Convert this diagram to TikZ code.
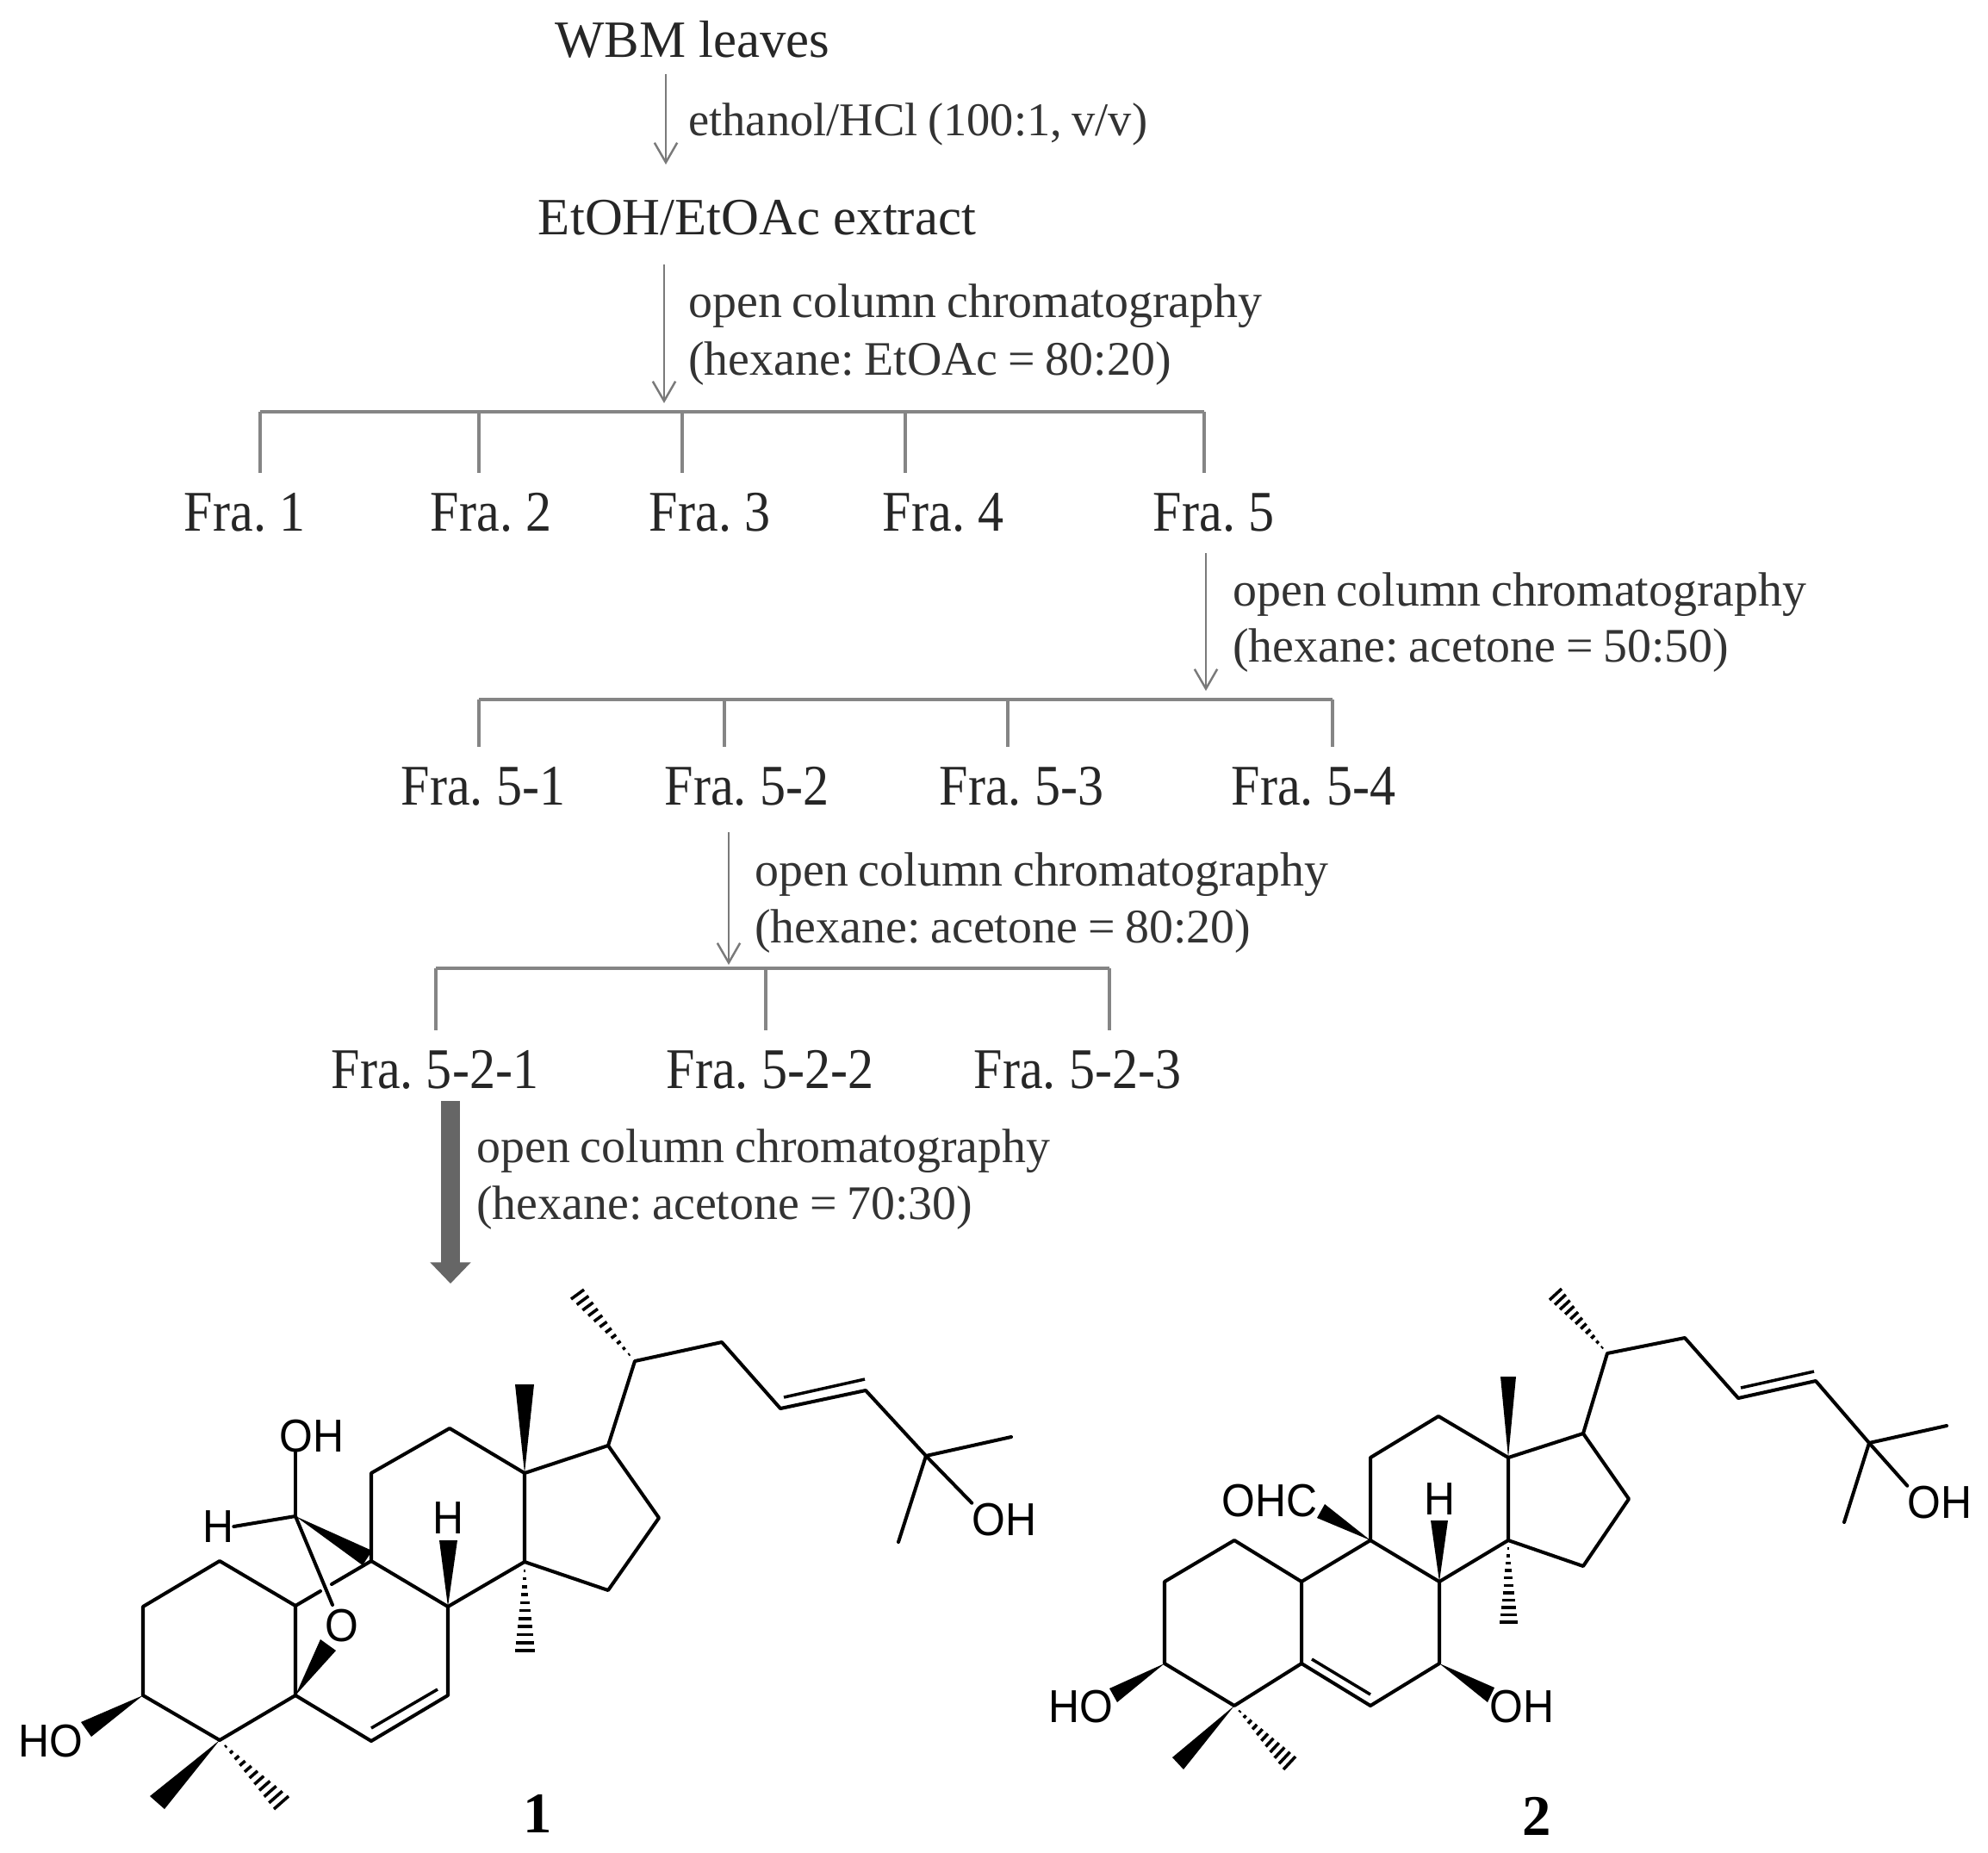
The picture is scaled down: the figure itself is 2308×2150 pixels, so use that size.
\documentclass[tikz,border=0pt]{standalone}
\usepackage{fontspec}
\setmainfont{Liberation Serif}
\setsansfont{Liberation Sans}
\newfontfamily\notefont[WordSpace=0.85]{Liberation Serif}
\newfontfamily\frafont[FakeStretch=0.9]{Liberation Serif}
\newfontfamily\atomfont[FakeStretch=0.93]{Liberation Sans}
\usetikzlibrary{calc,arrows.meta}
\newcommand{\hashbond}[3]{\foreach \t in {0.10,0.19,...,1.0} \draw[hashline] ($#1!\t!#2$) -- ($#1!\t!#3$);}
\frenchspacing
\begin{document}
\begin{tikzpicture}[x=0.02cm,y=-0.02cm,
    flowarrow/.style={draw=black!52, line width=1.4pt, -{Straight Barb[length=13pt,width=15pt]}},
    thickarrow/.style={draw=black!60, line width=12pt, -{Triangle[length=14pt,width=26pt]}},
    branch/.style={draw=black!48, line width=1.8pt},
    toplabel/.style={anchor=base, inner sep=0pt, text=black!85, font=\fontsize{34.6}{36}\selectfont, text height=40pt},
    stepnote/.style={anchor=base west, inner sep=0pt, text=black!80, font=\notefont\fontsize{31.8}{34}\selectfont},
    fraction/.style={anchor=base, inner sep=0pt, text=black!85, font=\frafont\fontsize{38}{40}\selectfont, text height=38pt},
    bond/.style={line width=2.3pt, line join=round, line cap=round},
    thinbond/.style={line width=2pt},
    hashline/.style={line width=2pt},
    atomlabel/.style={inner sep=0pt, font=\atomfont\fontsize{30.5}{32}\selectfont},
    compound/.style={inner sep=0pt, font=\bfseries\fontsize{38}{40}\selectfont}]
\useasboundingbox (0,0) rectangle (2308,2150);
\fill[white] (0,0) rectangle (2308,2150);

% Flow chart, top part
\node[toplabel] (wbm) at (804,66) {WBM leaves};
\node[stepnote, font=\notefont\fontsize{31}{33}\selectfont] (noteA) at (799,157) {ethanol/HCl (100:1, v/v)};
\node[toplabel] (ext) at (879,272) {EtOH/EtOAc extract};
\coordinate (arrowA) at (773,191);
\draw[flowarrow] (wbm.south -| arrowA) ++(0,19) -- (arrowA);
\coordinate (arrowB) at (771,468);
\draw[flowarrow] (ext.south -| arrowB) ++(0,34) -- (arrowB);
\node[stepnote] (noteB) at (799,368) {open column chromatography};
\node[stepnote] (noteC) at (799,435) {(hexane: EtOAc = 80:20)};

% First set of fractions
\node[fraction] (fraA) at (284,616) {Fra. 1};
\node[fraction] (fraB) at (570,616) {Fra. 2};
\node[fraction] (fraC) at (824,616) {Fra. 3};
\node[fraction] (fraD) at (1095,616) {Fra. 4};
\node[fraction] (fraE) at (1409,616) {Fra. 5};
\coordinate (busAl) at (302,478);
\coordinate (busAr) at (1398,478);
\draw[branch] (busAl) -- (busAr);
\foreach \n/\x in {fraA/302,fraB/556,fraC/792,fraD/1051,fraE/1398}
    \draw[branch] (\x,478) -- (\n.north -| \x,0);

% Fra. 5 down to its fractions
\coordinate (arrowC) at (1400,802);
\draw[flowarrow] (fraE.south -| arrowC) ++(0,25) -- (arrowC);
\node[stepnote] (noteD) at (1431,703) {open column chromatography};
\node[stepnote] (noteE) at (1431,768) {(hexane: acetone = 50:50)};
\node[fraction] (fraEa) at (561,934) {Fra. 5-1};
\node[fraction] (fraEb) at (867,934) {Fra. 5-2};
\node[fraction] (fraEc) at (1186,934) {Fra. 5-3};
\node[fraction] (fraEd) at (1525,934) {Fra. 5-4};
\coordinate (busBl) at (556,812);
\coordinate (busBr) at (1547,812);
\draw[branch] (busBl) -- (busBr);
\foreach \n/\x in {fraEa/556,fraEb/841,fraEc/1170,fraEd/1547}
    \draw[branch] (\x,812) -- (\n.north -| \x,0);

% Fra. 5-2 down to its fractions
\coordinate (arrowD) at (846,1120);
\draw[flowarrow] (fraEb.south -| arrowD) ++(0,31) -- (arrowD);
\node[stepnote] (noteF) at (876,1028) {open column chromatography};
\node[stepnote] (noteG) at (876,1094) {(hexane: acetone = 80:20)};
\node[fraction] (fraEba) at (505,1263) {Fra. 5-2-1};
\node[fraction] (fraEbb) at (894,1263) {Fra. 5-2-2};
\node[fraction] (fraEbc) at (1251,1263) {Fra. 5-2-3};
\coordinate (busCl) at (506,1124);
\coordinate (busCr) at (1288,1124);
\draw[branch] (busCl) -- (busCr);
\foreach \n/\x in {fraEba/506,fraEbb/889,fraEbc/1288}
    \draw[branch] (\x,1124) -- (\n.north -| \x,0);

% Fra. 5-2-1 to compound 1
\coordinate (arrowE) at (523,1490);
\draw[thickarrow] (fraEba.south -| arrowE) ++(0,14) -- (arrowE);
\node[stepnote] (noteH) at (553,1349) {open column chromatography};
\node[stepnote] (noteI) at (553,1415) {(hexane: acetone = 70:30)};

% Compound 1, atoms
\foreach \n/\x/\y in {1/255/1812,2/166/1865,3/166/1968,4/255/2020,5/343/1968,6/431/2021,7/520/1968,8/520/1865,
    9/431/1812,10/343/1864,11/431/1710,12/522/1658,13/609/1710,14/609/1813,15/706/1846,16/765/1762,17/706/1678,
    19/343/1760,20/737/1580,22/838/1558,23/906/1635,24/1005/1614,25/1075/1690,26/1174/1668,27/1043/1790}
    \coordinate (a\n) at (\x,\y);
\draw[bond] (a3) -- (a2) -- (a1) -- (a10) -- (a5) -- (a4) -- (a3);
\draw[bond] (a5) -- (a6) -- (a7) -- (a8) -- (a9) -- (a11) -- (a12) -- (a13) -- (a14) -- (a8);
\draw[bond] (a14) -- (a15) -- (a16) -- (a17) -- (a13);
\draw[bond] (a17) -- (a20) -- (a22) -- (a23) -- (a24) -- (a25) -- (a26);
\draw[bond] (a25) -- (a27);
\draw[thinbond] (431,2006) -- (508,1961);
\draw[thinbond] (910,1622) -- (1004,1601);
\draw[bond] (a10) -- (372,1847);
\draw[bond] (385,1839) -- (a9);
\draw[bond] (a19) -- (386,1863);
\fill (a19) -- (432,1800) -- (421,1817) -- cycle;
\fill (a3) -- (94,1999) -- (106,2016) -- cycle;
\fill (a4) -- (174,2085) -- (191,2100) -- cycle;
\fill (a5) -- (372,1903) -- (390,1916) -- cycle;
\fill (a8) -- (510,1788) -- (531,1788) -- cycle;
\fill (a13) -- (598,1607) -- (620,1607) -- cycle;
\hashbond{(a4)}{(318,2100)}{(335,2085)}
\hashbond{(a14)}{(598,1916)}{(621,1916)}
\hashbond{(a20)}{(678,1497)}{(663,1508)}
\node[atomlabel] (hoA) at (59,2021) {HO};
\node[atomlabel] (oxA) at (397,1887) {O};
\node[atomlabel] (hA) at (520,1762) {H};
\node[atomlabel] (ohA) at (362,1667) {OH};
\node[atomlabel] (hbA) at (253,1772) {H};
\node[atomlabel] (ohtailA) at (1166,1764) {OH};
\draw[bond] (a19) -- (ohA.south -| a19);
\draw[bond] (a19) -- (hbA.east);
\draw[bond] (a25) -- (ohtailA.north west);
\node[compound] (cmpA) at (624,2105) {1};

% Compound 2, atoms
\foreach \n/\x/\y in {1/1433/1788,2/1352/1836,3/1352/1931,4/1433/1980,5/1511/1931,6/1591/1980,7/1671/1931,8/1671/1836,
    9/1591/1788,10/1511/1836,11/1591/1692,12/1670/1644,13/1751/1692,14/1751/1788,15/1838/1818,16/1891/1740,17/1838/1664,
    20/1866/1571,22/1956/1553,23/2018/1623,24/2108/1603,25/2170/1675,26/2260/1655,27/2141/1767}
    \coordinate (b\n) at (\x,\y);
\draw[bond] (b3) -- (b2) -- (b1) -- (b10) -- (b5) -- (b4) -- (b3);
\draw[bond] (b5) -- (b6) -- (b7) -- (b8) -- (b9) -- (b10);
\draw[bond] (b9) -- (b11) -- (b12) -- (b13) -- (b14) -- (b8);
\draw[bond] (b14) -- (b15) -- (b16) -- (b17) -- (b13);
\draw[bond] (b17) -- (b20) -- (b22) -- (b23) -- (b24) -- (b25) -- (b26);
\draw[bond] (b25) -- (b27);
\draw[thinbond] (1523,1926) -- (1591,1967);
\draw[thinbond] (2021,1611) -- (2106,1592);
\fill (b3) -- (1288,1960) -- (1297,1976) -- cycle;
\fill (b4) -- (1361,2040) -- (1374,2054) -- cycle;
\fill (b7) -- (1735,1959) -- (1727,1976) -- cycle;
\fill (b8) -- (1661,1765) -- (1681,1765) -- cycle;
\fill (b9) -- (1538,1746) -- (1529,1762) -- cycle;
\fill (b13) -- (1742,1598) -- (1760,1598) -- cycle;
\hashbond{(b4)}{(1490,2054)}{(1504,2039)}
\hashbond{(b14)}{(1741,1883)}{(1762,1883)}
\hashbond{(b20)}{(1813,1496)}{(1799,1509)}
\node[atomlabel] (hoB) at (1255,1981) {HO};
\node[atomlabel] (ohB) at (1767,1981) {OH};
\node[atomlabel] (hB) at (1671,1740) {H};
\node[atomlabel] (ohcB) at (1474,1742) {OHC};
\node[atomlabel] (ohtailB) at (2252,1744) {OH};
\draw[bond] (b25) -- (ohtailB.north west);
\node[compound] (cmpB) at (1784,2108) {2};
\end{tikzpicture}
\end{document}
